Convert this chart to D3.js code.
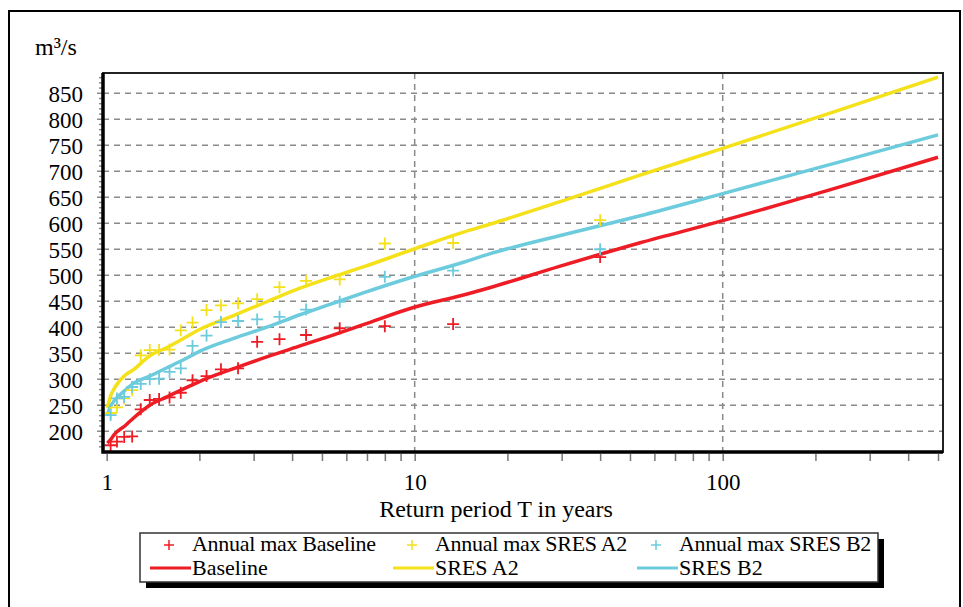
<!DOCTYPE html>
<html>
<head>
<meta charset="utf-8">
<script src="https://cdn.jsdelivr.net/npm/d3@7"></script>
<style>
  body { margin: 0; background: #fff; }
  text { font-family: "Liberation Serif", "Times New Roman", serif; fill: #000; }
</style>
</head>
<body>
<div></div>
<script>
// return periods used for the fitted curves
var curveT = [1.005, 1.03, 1.06, 1.15, 1.22, 1.38, 1.57, 1.77, 2.01, 2.57, 3.31, 4.24, 5.31, 6.81, 9.9, 14.4, 17.5, 29.5, 53.6, 100, 240, 500];
var baseline = [177, 184, 194, 211, 225, 250, 266, 281, 296, 320, 343, 364, 383, 405, 438, 462, 476, 517, 562, 605, 670, 727];
var sresA2 = [245, 268, 283, 308, 318, 345, 361, 378, 396, 422, 449, 475, 495, 516, 550, 583, 598, 641, 692, 744, 818, 881];
var sresB2 = [231, 248, 259, 279, 292, 306, 322, 337, 354, 378, 400, 424, 444, 466, 497, 525, 541, 576, 614, 657, 718, 770];

// plotting positions of the annual maxima
var pointT = [40, 13.33, 8, 5.71, 4.44, 3.64, 3.08, 2.67, 2.35, 2.11, 1.9, 1.74, 1.6, 1.48, 1.38, 1.29, 1.21, 1.14, 1.08, 1.03];
var maxBaseline = [535, 406, 402, 398, 385, 377, 372, 321, 319, 306, 298, 274, 265, 262, 260, 242, 190, 189, 180, 173];
var maxA2 = [606, 562, 561, 492, 489, 477, 454, 446, 442, 433, 409, 394, 357, 356, 356, 346, 279, 263, 246, 235];
var maxB2 = [550, 509, 497, 449, 434, 420, 415, 412, 410, 384, 364, 321, 314, 301, 300, 291, 285, 266, 263, 231];

var yTicks = [200, 250, 300, 350, 400, 450, 500, 550, 600, 650, 700, 750, 800, 850];
var xTicks = [1, 10, 100];

var red = "#ee1c25";
var yellow = "#f4e11a";
var cyan = "#6ccbdc";
var serif = "Liberation Serif, Times New Roman, serif";

function init() {
    var w = 963;
    var h = 607;
    var left = 103, right = 943, top = 73, bottom = 452;

    var svg = d3.select("div")
                .append("svg")
                .attr("width", w)
                .attr("height", h);

    // outer frame
    svg.append("rect")
        .attr("x", 9).attr("y", 11)
        .attr("width", 951).attr("height", 620)
        .attr("fill", "none")
        .attr("stroke", "#000")
        .attr("stroke-width", 2);

    svg.append("text")
        .attr("x", 35).attr("y", 55)
        .style("font-size", "24px")
        .text("m³/s");

    var xScale = d3.scaleLog()
                .domain([0.973, 519])
                .range([left, right]);

    var yScale = d3.scaleLinear()
                .domain([160, 889])
                .range([bottom, top]);

    // horizontal grid
    svg.append("g").selectAll("line")
        .data(yTicks)
        .enter()
        .append("line")
        .attr("x1", left).attr("x2", right)
        .attr("y1", function(d) { return yScale(d); })
        .attr("y2", function(d) { return yScale(d); })
        .attr("stroke", "#8a8a8a")
        .attr("stroke-width", 1.5)
        .attr("stroke-dasharray", "6,5");

    // vertical grid at 10 and 100
    svg.append("g").selectAll("line")
        .data([10, 100])
        .enter()
        .append("line")
        .attr("x1", function(d) { return xScale(d); })
        .attr("x2", function(d) { return xScale(d); })
        .attr("y1", top).attr("y2", bottom)
        .attr("stroke", "#8a8a8a")
        .attr("stroke-width", 1.5)
        .attr("stroke-dasharray", "6,5");

    // minor ticks on the left axis
    var minor = d3.range(170, 890, 10);
    svg.append("g").selectAll("line")
        .data(minor)
        .enter()
        .append("line")
        .attr("x1", function(d) { return d % 50 == 0 ? left - 6 : left - 4; })
        .attr("x2", left)
        .attr("y1", function(d) { return yScale(d); })
        .attr("y2", function(d) { return yScale(d); })
        .attr("stroke", "#8a8a8a")
        .attr("stroke-width", 1.5);

    var yAxis = d3.axisLeft(yScale)
                .tickValues(yTicks)
                .tickSize(0)
                .tickPadding(20);

    var gy = svg.append("g")
            .attr("transform", "translate(" + left + ",0)")
            .call(yAxis)
            .attr("font-family", serif)
            .attr("font-size", 23);
    gy.select(".domain").remove();
    gy.selectAll("text").attr("dy", "0.36em");

    // log ticks below the x axis
    var logTicks = [1, 2, 3, 4, 5, 6, 7, 8, 9, 10, 20, 30, 40, 50, 60, 70, 80, 90, 100, 200, 300, 400, 500];
    var xAxis = d3.axisBottom(xScale)
                .tickValues(logTicks)
                .tickSize(7)
                .tickPadding(13)
                .tickFormat(function(d) { return xTicks.indexOf(d) >= 0 ? d : ""; });

    var gx = svg.append("g")
            .attr("transform", "translate(0," + (bottom + 2) + ")")
            .call(xAxis)
            .attr("font-family", serif)
            .attr("font-size", 23);
    gx.select(".domain").remove();
    gx.selectAll("line").attr("stroke", "#777").attr("stroke-width", 1.5);

    svg.append("text")
        .attr("x", 496).attr("y", 517)
        .attr("text-anchor", "middle")
        .style("font-size", "24px")
        .text("Return period T in years");

    // curves and points clipped to the plot
    svg.append("clipPath").attr("id", "clip")
        .append("rect")
        .attr("x", left).attr("y", top)
        .attr("width", right - left).attr("height", bottom - top);

    var plot = svg.append("g").attr("clip-path", "url(#clip)");

    var line = d3.line()
            .curve(d3.curveMonotoneX)
            .x(function(d) { return xScale(d[0]); })
            .y(function(d) { return yScale(d[1]); });

    var curves = [[baseline, red], [sresA2, yellow], [sresB2, cyan]];
    curves.forEach(function(c) {
        plot.append("path")
            .datum(d3.zip(curveT, c[0]))
            .attr("d", line)
            .attr("fill", "none")
            .attr("stroke", c[1])
            .attr("stroke-width", 3.5);
    });

    var points = [[maxBaseline, red], [maxA2, yellow], [maxB2, cyan]];
    points.forEach(function(p) {
        plot.append("g").selectAll("path")
            .data(d3.zip(pointT, p[0]))
            .enter()
            .append("path")
            .attr("d", function(d) {
                var x = xScale(d[0]), y = yScale(d[1]);
                return "M" + (x - 6) + "," + y + "H" + (x + 6) + "M" + x + "," + (y - 6) + "V" + (y + 6);
            })
            .attr("stroke", p[1])
            .attr("stroke-width", 1.8);
    });

    // plot border
    svg.append("rect")
        .attr("x", left).attr("y", top)
        .attr("width", right - left).attr("height", bottom - top)
        .attr("fill", "none")
        .attr("stroke", "#222")
        .attr("stroke-width", 2);
    svg.append("path")
        .attr("d", "M" + left + "," + top + "V" + bottom + "H" + right)
        .attr("fill", "none")
        .attr("stroke", "#000")
        .attr("stroke-width", 3.5);

    // legend
    var lx = 140, ly = 533, lw = 738, lh = 49;
    svg.append("rect")
        .attr("x", lx + 6).attr("y", ly + 6)
        .attr("width", lw).attr("height", lh)
        .attr("fill", "#000");
    svg.append("rect")
        .attr("x", lx).attr("y", ly)
        .attr("width", lw).attr("height", lh)
        .attr("fill", "#fff")
        .attr("stroke", "#333")
        .attr("stroke-width", 1.5);

    var legend = [
        {name: "Annual max Baseline", line: "Baseline", color: red, x: 150},
        {name: "Annual max SRES A2", line: "SRES A2", color: yellow, x: 393},
        {name: "Annual max SRES B2", line: "SRES B2", color: cyan, x: 637}
    ];
    var lg = svg.append("g").selectAll("g")
        .data(legend)
        .enter()
        .append("g")
        .attr("transform", function(d) { return "translate(" + d.x + ",0)"; });

    lg.append("path")
        .attr("d", "M14,545H24M19,540V550")
        .attr("stroke", function(d) { return d.color; })
        .attr("stroke-width", 1.5);
    lg.append("text")
        .attr("x", 42).attr("y", 551)
        .style("font-size", "22px")
        .style("letter-spacing", "-0.3px")
        .text(function(d) { return d.name; });
    lg.append("line")
        .attr("x1", 0).attr("x2", 41)
        .attr("y1", 568).attr("y2", 568)
        .attr("stroke", function(d) { return d.color; })
        .attr("stroke-width", 3);
    lg.append("text")
        .attr("x", 42).attr("y", 575)
        .style("font-size", "22px")
        .text(function(d) { return d.line; });
}

window.onload = init;
</script>
</body>
</html>
